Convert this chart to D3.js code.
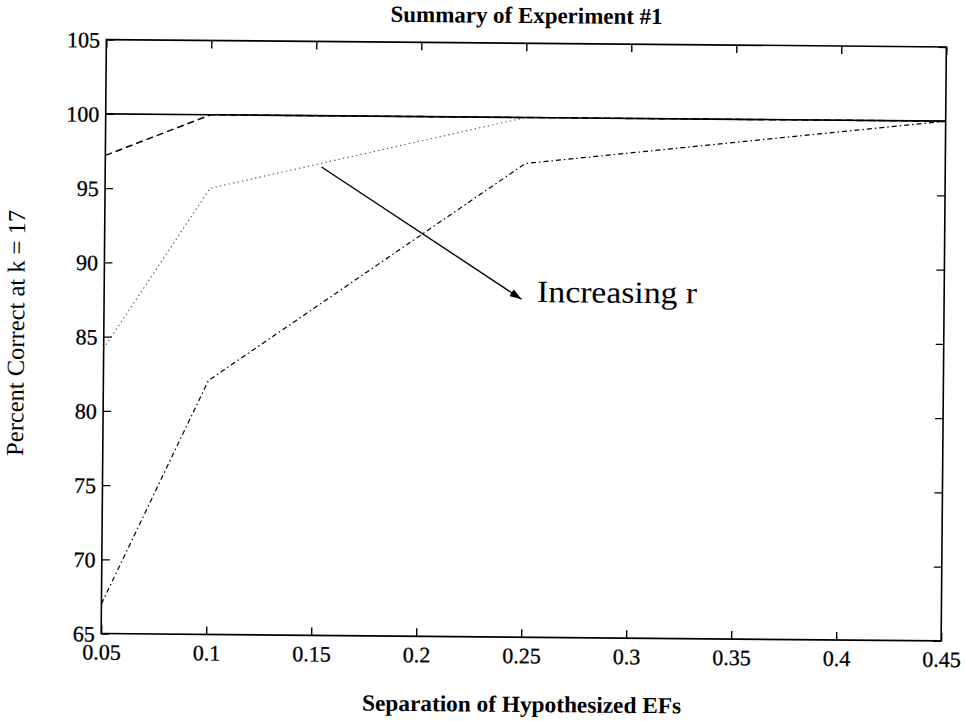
<!DOCTYPE html>
<html>
<head>
<meta charset="utf-8">
<script src="https://cdn.jsdelivr.net/npm/d3@7"></script>
<style>
  html, body { margin: 0; padding: 0; background: #fff; }
  svg { display: block; }
</style>
</head>
<body>
<svg id="chart" width="965" height="721"></svg>
<script>
// ---- data ----
const xValues       = [0.05, 0.1, 0.25, 0.45];
const solidSeries   = [100, 100, 100, 100];
const dashedSeries  = [97.2, 100, 100, 100];
const dottedSeries  = [84.2, 95.05, 100, 100];
const dashDotSeries = [67, 82.1, 96.9, 100];

const xTicks      = [0.05, 0.1, 0.15, 0.2, 0.25, 0.3, 0.35, 0.4, 0.45];
const xTickLabels = ["0.05", "0.1", "0.15", "0.2", "0.25", "0.3", "0.35", "0.4", "0.45"];
const yTicks      = [65, 70, 75, 80, 85, 90, 95, 100, 105];
const yTickLabels = ["65", "70", "75", "80", "85", "90", "95", "100", "105"];

const titleText  = "Summary of Experiment #1";
const xLabelText = "Separation of Hypothesized EFs";
const yLabelText = "Percent Correct at k = 17";
const annotText  = "Increasing r";
const arrowFrom  = [0.153, 96.55];
const arrowTo    = [0.2488, 87.76];
const annotAt    = [0.2562, 87.58];

// ---- layout ----
const W = 965, H = 721;
const plot = { left: 103.75, top: 43.25, width: 840, height: 594 };
const cx = plot.left + plot.width / 2, cy = plot.top + plot.height / 2;

const svg = d3.select("#chart");
svg.append("rect").attr("width", W).attr("height", H).attr("fill", "#fff");

const defs = svg.append("defs");
defs.append("marker")
  .attr("id", "arrowhead")
  .attr("viewBox", "0 0 12 8")
  .attr("refX", 12).attr("refY", 4)
  .attr("markerWidth", 12).attr("markerHeight", 8)
  .attr("markerUnits", "userSpaceOnUse")
  .attr("orient", "auto")
  .append("path").attr("d", "M0,0 L12,4 L0,8 Z").attr("fill", "#000");

// whole page is slightly rotated like the scanned original
const page = svg.append("g").attr("transform", `rotate(0.5, ${cx}, ${cy})`);

const x = d3.scaleLinear().domain([0.05, 0.45]).range([plot.left, plot.left + plot.width]);
const y = d3.scaleLinear().domain([65, 105]).range([plot.top + plot.height, plot.top]);

const serif = "'Liberation Serif', 'Times New Roman', serif";
const tickLen = 8;

// axes (ticks inward, MATLAB style box)
const xAxisB = d3.axisBottom(x).tickValues(xTicks)
  .tickFormat((d, i) => xTickLabels[i]).tickSizeInner(-tickLen).tickSizeOuter(0);
const xAxisT = d3.axisTop(x).tickValues(xTicks).tickFormat("").tickSizeInner(-tickLen).tickSizeOuter(0);
const yAxisL = d3.axisLeft(y).tickValues(yTicks)
  .tickFormat((d, i) => yTickLabels[i]).tickSizeInner(-tickLen).tickSizeOuter(0);
const yAxisR = d3.axisRight(y).tickValues(yTicks).tickFormat("").tickSizeInner(-tickLen).tickSizeOuter(0);

function styleAxis(g) {
  g.select(".domain").remove();
  g.selectAll(".tick line").attr("stroke", "#000").attr("stroke-width", 1.4);
  g.selectAll(".tick text").attr("fill", "#000")
    .style("font-family", serif).style("font-size", "22px")
    .attr("stroke", "#000").attr("stroke-width", 0.3);
}

page.append("g").attr("transform", `translate(0,${plot.top + plot.height})`).call(xAxisB).call(styleAxis)
  .selectAll(".tick text").attr("y", 26).attr("dy", 0);
page.append("g").attr("transform", `translate(0,${plot.top})`).call(xAxisT).call(styleAxis);
page.append("g").attr("transform", `translate(${plot.left},0)`).call(yAxisL).call(styleAxis)
  .selectAll(".tick text").attr("x", -6.3).attr("dy", "0.34em");
page.append("g").attr("transform", `translate(${plot.left + plot.width},0)`).call(yAxisR).call(styleAxis);

// frame
page.append("rect")
  .attr("x", plot.left).attr("y", plot.top)
  .attr("width", plot.width).attr("height", plot.height)
  .attr("fill", "none").attr("stroke", "#000").attr("stroke-width", 1.6);

// series
const line = d3.line().x(d => x(d[0])).y(d => y(d[1]));
const mk = vals => xValues.map((xv, i) => [xv, vals[i]]);

page.append("path").datum(mk(dashDotSeries)).attr("d", line)
  .attr("fill", "none").attr("stroke", "#000").attr("stroke-width", 1.2)
  .attr("stroke-dasharray", "5,3,1.5,3");
page.append("path").datum(mk(dottedSeries)).attr("d", line)
  .attr("fill", "none").attr("stroke", "#555").attr("stroke-width", 1.2)
  .attr("stroke-dasharray", "1.3,3.2");
page.append("path").datum(mk(dashedSeries)).attr("d", line)
  .attr("fill", "none").attr("stroke", "#000").attr("stroke-width", 1.5)
  .attr("stroke-dasharray", "7,4");
page.append("path").datum(mk(solidSeries)).attr("d", line)
  .attr("fill", "none").attr("stroke", "#000").attr("stroke-width", 1.6);

// annotation arrow + text
page.append("line")
  .attr("x1", x(arrowFrom[0])).attr("y1", y(arrowFrom[1]))
  .attr("x2", x(arrowTo[0])).attr("y2", y(arrowTo[1]))
  .attr("stroke", "#000").attr("stroke-width", 1.4)
  .attr("marker-end", "url(#arrowhead)");
page.append("text")
  .attr("x", x(annotAt[0])).attr("y", y(annotAt[1]))
  .attr("textLength", 160).attr("lengthAdjust", "spacingAndGlyphs")
  .style("font-family", serif).style("font-size", "31px").attr("fill", "#000")
  .text(annotText);

// title & labels
page.append("text")
  .attr("x", cx).attr("y", 23).attr("text-anchor", "middle")
  .attr("textLength", 272).attr("lengthAdjust", "spacingAndGlyphs")
  .style("font-family", serif).style("font-weight", "bold").style("font-size", "23px")
  .text(titleText);
page.append("text")
  .attr("x", cx + 1).attr("y", 712).attr("text-anchor", "middle")
  .attr("textLength", 319).attr("lengthAdjust", "spacingAndGlyphs")
  .style("font-family", serif).style("font-weight", "bold").style("font-size", "23px")
  .text(xLabelText);
page.append("text")
  .attr("transform", `translate(24, ${cy - 3}) rotate(-90)`)
  .attr("text-anchor", "middle")
  .attr("textLength", 246).attr("lengthAdjust", "spacingAndGlyphs")
  .style("font-family", serif).style("font-size", "24.5px")
  .text(yLabelText);
</script>
</body>
</html>
